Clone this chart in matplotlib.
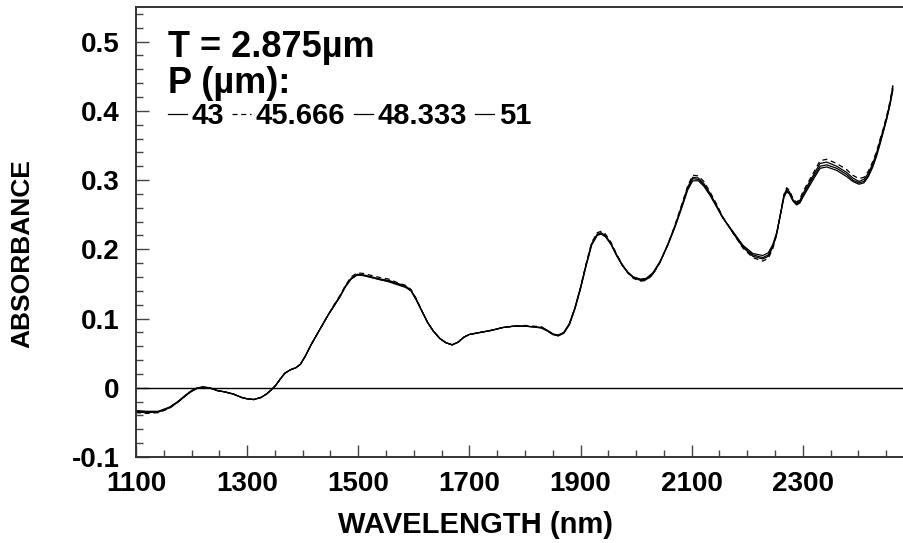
import matplotlib.pyplot as plt
from matplotlib.ticker import MultipleLocator, FuncFormatter

plt.rcParams['font.family'] = ['Liberation Sans', 'DejaVu Sans']
plt.rcParams['font.weight'] = 'bold'

# wavelength grid (nm)
wavelength = [
    1100, 1120, 1140, 1160, 1175, 1190, 1200, 1210, 1220, 1232,
    1246, 1260, 1275, 1290, 1300, 1312, 1325, 1335, 1345, 1352,
    1360, 1368, 1378, 1388, 1396, 1405, 1415, 1425, 1435, 1445,
    1455, 1467, 1477, 1487, 1498, 1510, 1525, 1540, 1555, 1570,
    1585, 1595, 1605, 1615, 1625, 1635, 1647, 1658, 1669, 1680,
    1690, 1700, 1720, 1740, 1760, 1780, 1800, 1815, 1830, 1840,
    1850, 1860, 1870, 1880, 1890, 1900, 1910, 1920, 1930, 1937,
    1945, 1955, 1965, 1975, 1985, 1995, 2008, 2018, 2030, 2043,
    2057, 2070, 2083, 2093, 2102, 2112, 2122, 2133, 2145, 2156,
    2174, 2192, 2210, 2228, 2238, 2246, 2253, 2260, 2266, 2271,
    2276, 2282, 2289, 2295, 2300, 2316, 2331, 2343, 2361, 2379,
    2390, 2401, 2410, 2418, 2426, 2433, 2439, 2445, 2451, 2457,
    2462,
]

abs_43 = [
    -0.034, -0.035, -0.035, -0.029, -0.021, -0.011, -0.005, -0.001, 0.001, 0.000,
    -0.004, -0.006, -0.009, -0.014, -0.016, -0.017, -0.014, -0.009, -0.002, 0.004,
    0.013, 0.021, 0.026, 0.029, 0.034, 0.046, 0.062, 0.076, 0.090, 0.104,
    0.117, 0.132, 0.147, 0.158, 0.164, 0.163, 0.160, 0.157, 0.155, 0.151,
    0.147, 0.141, 0.127, 0.110, 0.094, 0.082, 0.071, 0.065, 0.062, 0.066,
    0.073, 0.077, 0.080, 0.083, 0.087, 0.089, 0.089, 0.088, 0.087, 0.083,
    0.078, 0.076, 0.080, 0.093, 0.116, 0.145, 0.178, 0.208, 0.222, 0.224,
    0.220, 0.208, 0.192, 0.178, 0.167, 0.160, 0.156, 0.157, 0.165, 0.182,
    0.207, 0.234, 0.265, 0.290, 0.304, 0.303, 0.295, 0.281, 0.263, 0.246,
    0.224, 0.203, 0.190, 0.186, 0.190, 0.203, 0.222, 0.252, 0.278, 0.287,
    0.283, 0.272, 0.266, 0.271, 0.280, 0.303, 0.324, 0.326, 0.320, 0.311,
    0.303, 0.298, 0.301, 0.310, 0.324, 0.340, 0.357, 0.373, 0.391, 0.412,
    0.435,
]

abs_45666 = [
    -0.036, -0.037, -0.036, -0.030, -0.021, -0.011, -0.005, -0.001, 0.001, 0.000,
    -0.004, -0.006, -0.009, -0.014, -0.016, -0.017, -0.014, -0.009, -0.002, 0.004,
    0.013, 0.021, 0.026, 0.029, 0.034, 0.046, 0.062, 0.076, 0.090, 0.104,
    0.118, 0.133, 0.148, 0.160, 0.166, 0.165, 0.162, 0.159, 0.157, 0.152,
    0.148, 0.142, 0.128, 0.110, 0.094, 0.082, 0.071, 0.065, 0.062, 0.066,
    0.073, 0.077, 0.080, 0.083, 0.087, 0.089, 0.090, 0.089, 0.088, 0.083,
    0.078, 0.076, 0.080, 0.092, 0.115, 0.145, 0.179, 0.210, 0.224, 0.226,
    0.222, 0.210, 0.193, 0.178, 0.166, 0.158, 0.154, 0.155, 0.163, 0.181,
    0.207, 0.235, 0.267, 0.292, 0.307, 0.306, 0.298, 0.283, 0.265, 0.247,
    0.224, 0.202, 0.188, 0.183, 0.187, 0.201, 0.221, 0.252, 0.279, 0.289,
    0.285, 0.274, 0.268, 0.273, 0.283, 0.306, 0.328, 0.330, 0.324, 0.315,
    0.307, 0.302, 0.304, 0.313, 0.327, 0.342, 0.359, 0.375, 0.393, 0.414,
    0.437,
]

abs_48333 = [
    -0.033, -0.034, -0.034, -0.028, -0.020, -0.010, -0.004, 0.000, 0.001, 0.000,
    -0.004, -0.006, -0.009, -0.014, -0.016, -0.017, -0.014, -0.009, -0.002, 0.004,
    0.013, 0.021, 0.026, 0.029, 0.034, 0.046, 0.062, 0.076, 0.090, 0.104,
    0.117, 0.132, 0.146, 0.157, 0.163, 0.162, 0.159, 0.156, 0.154, 0.150,
    0.146, 0.140, 0.126, 0.110, 0.094, 0.082, 0.071, 0.065, 0.062, 0.066,
    0.073, 0.077, 0.080, 0.083, 0.087, 0.089, 0.089, 0.088, 0.087, 0.083,
    0.077, 0.075, 0.079, 0.092, 0.115, 0.144, 0.177, 0.207, 0.221, 0.223,
    0.219, 0.207, 0.191, 0.177, 0.166, 0.159, 0.155, 0.156, 0.164, 0.181,
    0.206, 0.233, 0.263, 0.288, 0.302, 0.301, 0.293, 0.279, 0.262, 0.246,
    0.225, 0.205, 0.192, 0.188, 0.192, 0.205, 0.223, 0.251, 0.276, 0.285,
    0.281, 0.271, 0.265, 0.269, 0.277, 0.300, 0.320, 0.322, 0.317, 0.308,
    0.300, 0.296, 0.298, 0.307, 0.321, 0.337, 0.354, 0.371, 0.389, 0.410,
    0.432,
]

abs_51 = [
    -0.035, -0.036, -0.035, -0.029, -0.021, -0.011, -0.005, -0.001, 0.001, 0.000,
    -0.004, -0.006, -0.009, -0.014, -0.016, -0.017, -0.014, -0.009, -0.002, 0.004,
    0.013, 0.021, 0.026, 0.029, 0.034, 0.046, 0.062, 0.076, 0.090, 0.104,
    0.116, 0.131, 0.146, 0.157, 0.163, 0.162, 0.159, 0.156, 0.153, 0.149,
    0.145, 0.140, 0.126, 0.110, 0.094, 0.082, 0.071, 0.065, 0.062, 0.066,
    0.073, 0.077, 0.080, 0.083, 0.087, 0.089, 0.089, 0.088, 0.086, 0.082,
    0.077, 0.075, 0.079, 0.091, 0.114, 0.143, 0.176, 0.206, 0.220, 0.222,
    0.218, 0.207, 0.191, 0.177, 0.167, 0.160, 0.157, 0.158, 0.166, 0.182,
    0.206, 0.232, 0.262, 0.286, 0.299, 0.299, 0.291, 0.278, 0.261, 0.245,
    0.226, 0.206, 0.194, 0.191, 0.195, 0.207, 0.224, 0.251, 0.275, 0.283,
    0.280, 0.270, 0.264, 0.267, 0.275, 0.297, 0.317, 0.319, 0.314, 0.305,
    0.298, 0.294, 0.296, 0.305, 0.319, 0.335, 0.352, 0.370, 0.388, 0.409,
    0.430,
]

series_labels = ['43', '45.666', '48.333', '51']
series_styles = ['-', (0, (4, 3)), '-', '-']

fig = plt.figure(figsize=(9.04, 5.43), dpi=100)
ax = fig.add_axes([0.1504, 0.1584, 0.8606, 0.8287])

for vals, lab, ls in zip([abs_43, abs_45666, abs_48333, abs_51], series_labels, series_styles):
    ax.plot(wavelength, vals, color='black', lw=0.9, ls=ls, label=lab)

ax.axhline(0, color='black', lw=1.0)

ax.set_xlim(1100, 2500)
ax.set_ylim(-0.1, 0.55)
ax.set_xticks([1100, 1300, 1500, 1700, 1900, 2100, 2300])
ax.xaxis.set_minor_locator(MultipleLocator(50))
ax.set_yticks([-0.1, 0, 0.1, 0.2, 0.3, 0.4, 0.5])
ax.yaxis.set_minor_locator(MultipleLocator(0.02))
ax.yaxis.set_major_formatter(FuncFormatter(lambda v, p: '0' if abs(v) < 1e-9 else f'{v:.1f}'))

ax.tick_params(which='both', direction='in', labelsize=20, width=1, color='#444444')
ax.tick_params(which='major', length=9)
ax.tick_params(which='minor', length=5)
ax.tick_params(axis='y', pad=12)
ax.tick_params(axis='x', pad=10)
for s in ax.spines.values():
    s.set_linewidth(1.4)
    s.set_color('#333333')

ax.set_xlabel('WAVELENGTH (nm)', fontsize=21, fontweight='bold')
ax.xaxis.set_label_coords(0.437, -0.12)
ax.set_ylabel('ABSORBANCE', fontsize=19, fontweight='bold')
ax.yaxis.set_label_coords(-0.130, 0.451)

ax.text(0.041, 0.911, 'T = 2.875\u00b5m', transform=ax.transAxes, fontsize=26,
        fontweight='bold', va='center', ha='left')
ax.text(0.041, 0.831, 'P (\u00b5m):', transform=ax.transAxes, fontsize=26,
        fontweight='bold', va='center', ha='left')
ax.legend(loc='center left', bbox_to_anchor=(0.041, 0.758), ncol=4, frameon=False,
          fontsize=21, handlelength=0.65, handletextpad=0.15, columnspacing=0.3,
          borderpad=0, borderaxespad=0)

fig.savefig('out.png', dpi=100)
